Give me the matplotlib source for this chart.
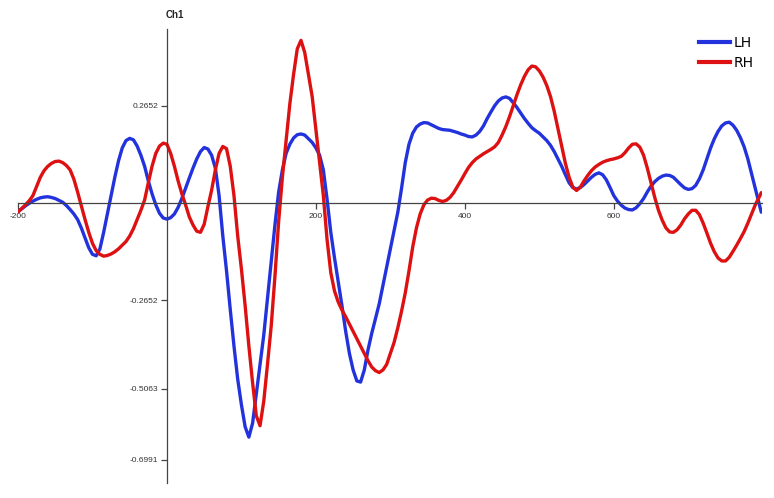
import matplotlib
matplotlib.use("Agg")
import matplotlib.pyplot as plt
from matplotlib.lines import Line2D

# time axis (ms): samples every 5 ms, last sample at 798 ms
time_ms = list(range(-200, 800, 5)) + [798]

lh = [
    # -200 .. 55
    -0.024, -0.016, -0.008, -0.001, 0.005, 0.010, 0.014, 0.016, 0.017, 0.015,
    0.012, 0.007, 0.002, -0.007, -0.018, -0.030, -0.045, -0.068, -0.095, -0.122,
    -0.140, -0.144, -0.125, -0.080, -0.030, 0.020, 0.070, 0.115, 0.150, 0.170,
    0.176, 0.172, 0.155, 0.130, 0.100, 0.060, 0.025, -0.005, -0.028, -0.041,
    -0.044, -0.040, -0.030, -0.012, 0.012, 0.040, 0.068, 0.095, 0.120, 0.140,
    0.151, 0.147,
    # 60 .. 300
    0.130, 0.095, 0.020, -0.090, -0.185, -0.290, -0.390, -0.480, -0.550, -0.610,
    -0.638, -0.600, -0.520, -0.440, -0.360, -0.260, -0.160, -0.060, 0.030, 0.090,
    0.135, 0.160, 0.177, 0.186, 0.188, 0.185, 0.175, 0.165, 0.150, 0.130,
    0.090, 0.010, -0.080, -0.150, -0.215, -0.280, -0.350, -0.410, -0.455, -0.485,
    -0.488, -0.455, -0.400, -0.355, -0.315, -0.275, -0.225, -0.175, -0.125,
    # 305 .. 795
    -0.075, -0.025, 0.040, 0.110, 0.160, 0.190, 0.207, 0.215, 0.219, 0.218,
    0.213, 0.208, 0.203, 0.200, 0.199, 0.198, 0.195, 0.192, 0.188, 0.185,
    0.181, 0.180, 0.185, 0.195, 0.210, 0.230, 0.248, 0.265, 0.278, 0.286,
    0.289, 0.285, 0.273, 0.260, 0.245, 0.230, 0.217, 0.205, 0.197, 0.190,
    0.180, 0.170, 0.157, 0.140, 0.120, 0.100, 0.077, 0.055, 0.042, 0.038,
    0.042, 0.050, 0.060, 0.070, 0.078, 0.082, 0.077, 0.063, 0.042, 0.020,
    0.005, -0.006, -0.014, -0.018, -0.019, -0.013, -0.002, 0.012, 0.030, 0.046,
    0.058, 0.067, 0.073, 0.076, 0.075, 0.070, 0.060, 0.050, 0.041, 0.037,
    0.039, 0.048, 0.066, 0.090, 0.120, 0.150, 0.175, 0.195, 0.210, 0.218,
    0.220, 0.212, 0.198, 0.178, 0.153, 0.120, 0.080, 0.040, 0.000,
    # 798
    -0.025]

rh = [
    # -200 .. 55
    -0.024, -0.015, -0.005, 0.006, 0.020, 0.045, 0.070, 0.088, 0.100, 0.108,
    0.113, 0.114, 0.110, 0.102, 0.090, 0.065, 0.030, -0.008, -0.045, -0.080,
    -0.110, -0.130, -0.140, -0.145, -0.143, -0.139, -0.133, -0.125, -0.115, -0.105,
    -0.090, -0.070, -0.045, -0.020, 0.008, 0.055, 0.100, 0.135, 0.155, 0.163,
    0.160, 0.135, 0.100, 0.060, 0.025, -0.005, -0.038, -0.060, -0.077, -0.080,
    -0.058, -0.010,
    # 60 .. 300
    0.035, 0.090, 0.135, 0.154, 0.148, 0.100, 0.020, -0.090, -0.180, -0.280,
    -0.390, -0.490, -0.580, -0.607, -0.540, -0.440, -0.335, -0.200, -0.050, 0.070,
    0.170, 0.270, 0.350, 0.420, 0.443, 0.410, 0.350, 0.290, 0.200, 0.108,
    0.020, -0.100, -0.190, -0.240, -0.270, -0.292, -0.310, -0.330, -0.350, -0.370,
    -0.390, -0.410, -0.430, -0.447, -0.457, -0.462, -0.455, -0.440, -0.410,
    # 305 .. 795
    -0.380, -0.340, -0.295, -0.245, -0.185, -0.120, -0.068, -0.030, -0.005, 0.008,
    0.013, 0.012, 0.007, 0.004, 0.007, 0.015, 0.028, 0.045, 0.062, 0.080,
    0.097, 0.110, 0.120, 0.127, 0.134, 0.140, 0.146, 0.153, 0.165, 0.185,
    0.208, 0.235, 0.265, 0.295, 0.322, 0.345, 0.363, 0.373, 0.371, 0.360,
    0.343, 0.320, 0.290, 0.250, 0.203, 0.155, 0.108, 0.070, 0.043, 0.034,
    0.043, 0.060, 0.075, 0.088, 0.098, 0.105, 0.111, 0.115, 0.118, 0.120,
    0.123, 0.127, 0.137, 0.150, 0.160, 0.161, 0.152, 0.130, 0.095, 0.055,
    0.015, -0.020, -0.047, -0.068, -0.079, -0.080, -0.073, -0.060, -0.043, -0.030,
    -0.020, -0.020, -0.032, -0.055, -0.082, -0.110, -0.133, -0.150, -0.158, -0.158,
    -0.148, -0.132, -0.115, -0.097, -0.078, -0.055, -0.030, -0.005, 0.015,
    # 798
    0.028]

series_names = ["LH", "RH"]
series_colors = ["#2233dd", "#dd1111"]
y_ticks = [0.2652, -0.2652, -0.5063, -0.6991]
y_tick_labels = ["0.2652", "-0.2652", "-0.5063", "-0.6991"]
x_ticks = [-200, 200, 400, 600]
x_tick_labels = ["-200", "200", "400", "600"]
channel_label = "Ch1"

plt.rcParams['font.family'] = ['Liberation Sans', 'DejaVu Sans']

fig = plt.figure(figsize=(7.74, 4.98), dpi=100)
ax = fig.add_axes([18 / 774, 15 / 498, 744 / 774, 454 / 498])
ax.set_xlim(-200, 799)
ax.set_ylim(-0.763, 0.474)

for vals, name, col in zip([lh, rh], series_names, series_colors):
    ax.plot(time_ms, vals, color=col, lw=2.4, label=name, solid_capstyle='round',
            solid_joinstyle='round')

for s in ['top', 'right']:
    ax.spines[s].set_visible(False)
ax.spines['left'].set_position(('data', 0))
ax.spines['bottom'].set_position(('data', 0))
for s in ['left', 'bottom']:
    ax.spines[s].set_color('#444444')
    ax.spines[s].set_linewidth(0.9)

ax.set_yticks(y_ticks)
ax.set_yticklabels(y_tick_labels)
ax.set_xticks(x_ticks)
ax.set_xticklabels(x_tick_labels)
ax.tick_params(axis='y', direction='out', length=4, width=0.9, color='#444444',
               labelsize=6, labelcolor='#333333', pad=2)
ax.tick_params(axis='x', direction='out', length=4, width=0.9, color='#444444',
               labelsize=6, labelcolor='#333333', pad=3)

fig.text(175 / 774, 1 - 15 / 498, channel_label, ha='center', va='center',
         fontsize=7, fontweight='bold', color='#222222')

handles = [Line2D([], [], color=c, lw=3) for c in series_colors]
fig.legend(handles, series_names, loc='upper left', bbox_to_anchor=(699 / 774, 1 - 36 / 498),
           frameon=False, handlelength=2.2, handletextpad=0.3, labelspacing=0.45,
           borderpad=0, borderaxespad=0, prop={'family': 'DejaVu Sans', 'size': 10})

fig.savefig("out.png", dpi=100)
